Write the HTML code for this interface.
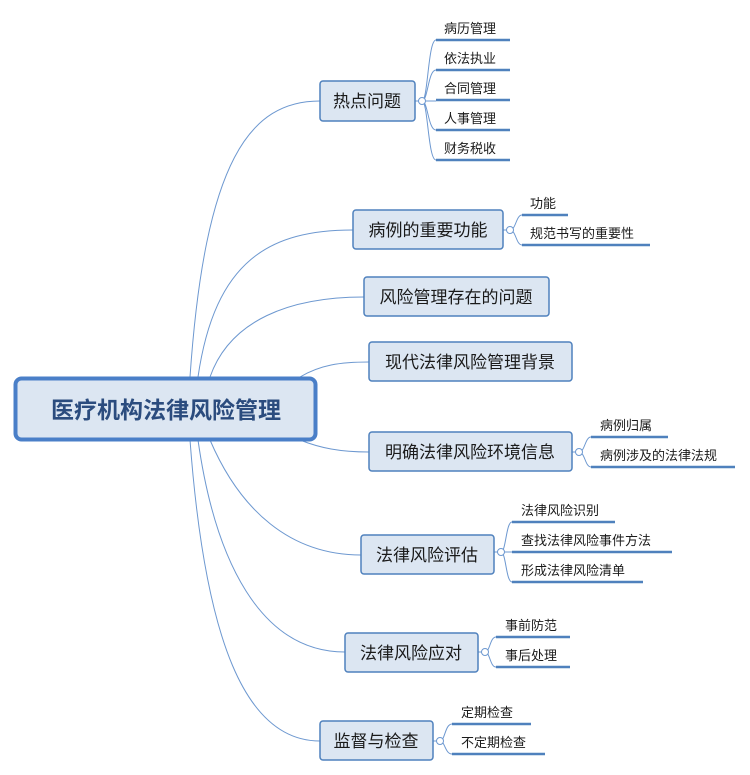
<!DOCTYPE html>
<html><head><meta charset="utf-8"><style>
body{margin:0;background:#fff;}
svg{display:block;font-family:"Liberation Sans","Noto Sans CJK SC",sans-serif;}
.n{fill:#dce6f2;stroke:#4f81bd;stroke-width:1.5}
.t{font-size:17px;fill:#1a1a1a}
.l{font-size:13px;fill:#1a1a1a}
.u{stroke:#4f81bd;stroke-width:2.5}
.c{fill:none;stroke:#6d98d0;stroke-width:1}
.o{fill:#fff;stroke:#6d98d0;stroke-width:1}
</style></head><body>
<svg width="750" height="775" viewBox="0 0 750 775">
<g class="c">
<path d="M190,377 C205,160 250,101 320,101"/>
<path d="M198,377 C215,260 270,230 353,230"/>
<path d="M210,377 C230,320 290,297 364,297"/>
<path d="M300,377 C320,365 340,362 369,362"/>
<path d="M300,440 C320,448 340,452 369,452"/>
<path d="M210,440 C240,510 290,555 361,555"/>
<path d="M198,440 C215,560 260,652 345,652"/>
<path d="M190,440 C205,640 245,741 320,741"/>
<!-- leaf brackets -->
<path d="M415,101 H422 C428,101 428,40 436,40 M422,101 C428,101 428,70 436,70 M422,101 H436 M422,101 C428,101 428,130 436,130 M422,101 C428,101 428,160 436,160"/>
<path d="M503,230 H510 C516,230 516,215 522,215 M510,230 C516,230 516,245 522,245"/>
<path d="M572,452 H579 C585,452 585,437 591,437 M579,452 C585,452 585,467 591,467"/>
<path d="M494,552 H501 C506,552 506,522 512,522 M501,552 H512 M501,552 C506,552 506,582 512,582"/>
<path d="M478,652 H485 C490,652 490,637 496,637 M485,652 C490,652 490,667 496,667"/>
<path d="M433,741 H440 C445,741 445,724 452,724 M440,741 C445,741 445,754 452,754"/>
</g>
<circle class="o" cx="422" cy="101" r="3.5"/>
<circle class="o" cx="510" cy="230" r="3.5"/>
<circle class="o" cx="579" cy="452" r="3.5"/>
<circle class="o" cx="501" cy="552" r="3.5"/>
<circle class="o" cx="485" cy="652" r="3.5"/>
<circle class="o" cx="440" cy="741" r="3.5"/>

<rect x="15.5" y="378.5" width="300" height="61" rx="6" fill="#dce6f2" stroke="#4a7fc8" stroke-width="4"/>
<text x="166" y="418" text-anchor="middle" font-size="23" font-weight="bold" fill="#2b4c7e">医疗机构法律风险管理</text>

<rect class="n" x="320" y="81" width="95" height="40" rx="3"/><text class="t" x="367" y="107" text-anchor="middle">热点问题</text>
<rect class="n" x="353" y="210" width="150" height="39" rx="3"/><text class="t" x="428" y="236" text-anchor="middle">病例的重要功能</text>
<rect class="n" x="364" y="277" width="185" height="39" rx="3"/><text class="t" x="456" y="303" text-anchor="middle">风险管理存在的问题</text>
<rect class="n" x="369" y="342" width="203" height="39" rx="3"/><text class="t" x="470" y="368" text-anchor="middle">现代法律风险管理背景</text>
<rect class="n" x="369" y="432" width="203" height="39" rx="3"/><text class="t" x="470" y="458" text-anchor="middle">明确法律风险环境信息</text>
<rect class="n" x="361" y="535" width="133" height="39" rx="3"/><text class="t" x="427" y="561" text-anchor="middle">法律风险评估</text>
<rect class="n" x="345" y="633" width="133" height="39" rx="3"/><text class="t" x="411" y="659" text-anchor="middle">法律风险应对</text>
<rect class="n" x="320" y="721" width="113" height="39" rx="3"/><text class="t" x="376" y="747" text-anchor="middle">监督与检查</text>

<g class="l">
<text x="444" y="33">病历管理</text><line class="u" x1="436" y1="40" x2="510" y2="40"/>
<text x="444" y="63">依法执业</text><line class="u" x1="436" y1="70" x2="510" y2="70"/>
<text x="444" y="93">合同管理</text><line class="u" x1="436" y1="100" x2="510" y2="100"/>
<text x="444" y="123">人事管理</text><line class="u" x1="436" y1="130" x2="510" y2="130"/>
<text x="444" y="153">财务税收</text><line class="u" x1="436" y1="160" x2="510" y2="160"/>
<text x="530" y="208">功能</text><line class="u" x1="522" y1="215" x2="568" y2="215"/>
<text x="530" y="238">规范书写的重要性</text><line class="u" x1="522" y1="245" x2="650" y2="245"/>
<text x="600" y="430">病例归属</text><line class="u" x1="591" y1="437" x2="668" y2="437"/>
<text x="600" y="460">病例涉及的法律法规</text><line class="u" x1="591" y1="467" x2="735" y2="467"/>
<text x="521" y="515">法律风险识别</text><line class="u" x1="512" y1="522" x2="615" y2="522"/>
<text x="521" y="545">查找法律风险事件方法</text><line class="u" x1="512" y1="552" x2="672" y2="552"/>
<text x="521" y="575">形成法律风险清单</text><line class="u" x1="512" y1="582" x2="643" y2="582"/>
<text x="505" y="630">事前防范</text><line class="u" x1="496" y1="637" x2="570" y2="637"/>
<text x="505" y="660">事后处理</text><line class="u" x1="496" y1="667" x2="570" y2="667"/>
<text x="461" y="717">定期检查</text><line class="u" x1="452" y1="724" x2="531" y2="724"/>
<text x="461" y="747">不定期检查</text><line class="u" x1="452" y1="754" x2="545" y2="754"/>
</g>
</svg>
</body></html>
